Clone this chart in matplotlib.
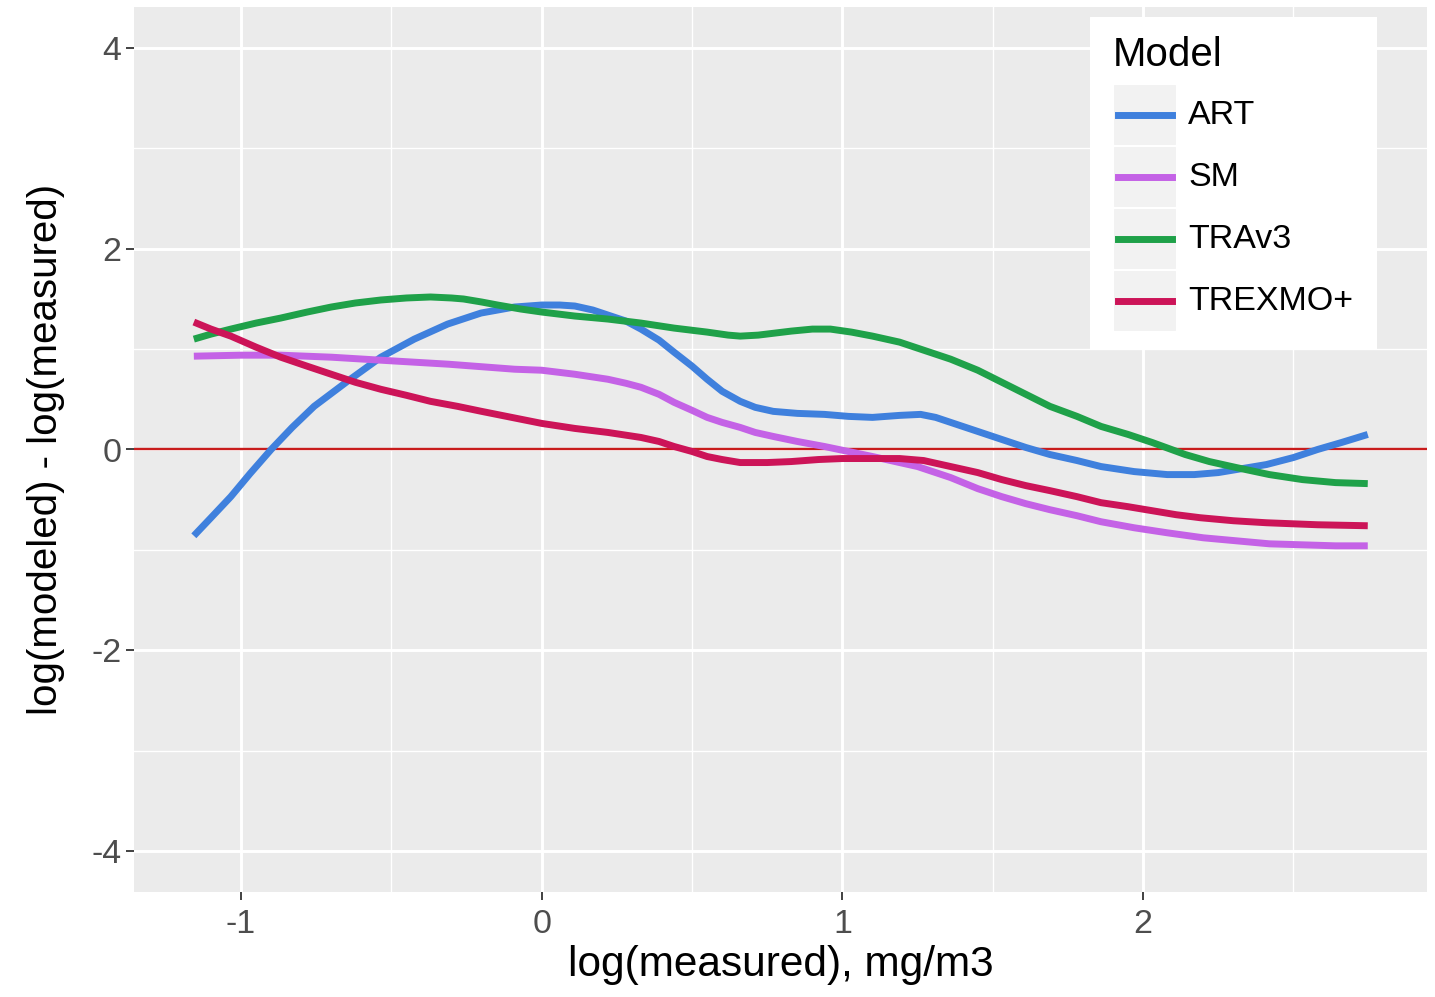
import matplotlib
matplotlib.use("Agg")
import matplotlib.pyplot as plt
from matplotlib.patches import Rectangle
import numpy as np

plt.rcParams['font.family'] = ['Liberation Sans', 'DejaVu Sans']
plt.rcParams['axes.unicode_minus'] = False

# ---- data ----
models = ['ART', 'SM', 'TRAv3', 'TREXMO+']
colors = ['#3F80DD', '#C462E6', '#1FA149', '#CC1458']

art_x = [-1.157, -1.10, -1.034, -0.97, -0.90, -0.83, -0.757, -0.646, -0.535, -0.424, -0.313,
         -0.202, -0.091, 0.0, 0.06, 0.11, 0.17, 0.22, 0.28, 0.33, 0.39, 0.44, 0.50, 0.55,
         0.60, 0.66, 0.71, 0.77, 0.85, 0.94, 1.02, 1.10, 1.19, 1.26, 1.31, 1.36, 1.45,
         1.53, 1.61, 1.69, 1.78, 1.86, 1.97, 2.08, 2.17, 2.25, 2.33, 2.41, 2.50, 2.58,
         2.66, 2.747]
art_y = [-0.86, -0.68, -0.47, -0.24, 0.0, 0.22, 0.43, 0.68, 0.92, 1.10, 1.25,
         1.36, 1.42, 1.44, 1.44, 1.43, 1.39, 1.34, 1.28, 1.20, 1.09, 0.97, 0.83, 0.70,
         0.58, 0.48, 0.42, 0.38, 0.36, 0.35, 0.33, 0.32, 0.34, 0.35, 0.32, 0.27, 0.18,
         0.10, 0.02, -0.05, -0.11, -0.17, -0.22, -0.25, -0.25, -0.23, -0.19, -0.15, -0.08, 0.0,
         0.07, 0.15]

sm_x = [-1.157, -1.0, -0.868, -0.70, -0.535, -0.31, -0.09, 0.0, 0.11, 0.22, 0.28, 0.33,
        0.39, 0.44, 0.50, 0.55, 0.60, 0.66, 0.71, 0.77, 0.85, 0.94, 1.02, 1.10, 1.19,
        1.25, 1.36, 1.45, 1.53, 1.61, 1.69, 1.78, 1.86, 1.97, 2.08, 2.20, 2.31, 2.42,
        2.53, 2.64, 2.747]
sm_y = [0.93, 0.94, 0.94, 0.92, 0.89, 0.85, 0.80, 0.79, 0.75, 0.70, 0.66, 0.62,
        0.55, 0.47, 0.39, 0.32, 0.27, 0.22, 0.17, 0.13, 0.08, 0.03, -0.02, -0.07, -0.13,
        -0.17, -0.28, -0.39, -0.47, -0.54, -0.60, -0.66, -0.72, -0.78, -0.83, -0.88, -0.91, -0.94,
        -0.95, -0.96, -0.96]

tra_x = [-1.157, -1.10, -1.034, -0.95, -0.868, -0.78, -0.70, -0.62, -0.535, -0.45, -0.37,
         -0.30, -0.26, -0.20, -0.147, -0.07, 0.0, 0.11, 0.22, 0.33, 0.44, 0.55, 0.62, 0.66,
         0.72, 0.83, 0.90, 0.96, 1.03, 1.10, 1.19, 1.27, 1.36, 1.45, 1.53, 1.61, 1.69,
         1.78, 1.86, 1.95, 2.03, 2.14, 2.22, 2.31, 2.42, 2.53, 2.64, 2.747]
tra_y = [1.10, 1.15, 1.20, 1.26, 1.31, 1.37, 1.42, 1.46, 1.49, 1.51, 1.52,
         1.51, 1.50, 1.47, 1.44, 1.40, 1.37, 1.33, 1.30, 1.26, 1.21, 1.17, 1.14, 1.13,
         1.14, 1.18, 1.20, 1.20, 1.17, 1.13, 1.07, 0.99, 0.90, 0.79, 0.67, 0.55, 0.43,
         0.33, 0.23, 0.15, 0.07, -0.05, -0.12, -0.18, -0.25, -0.30, -0.33, -0.34]

trx_x = [-1.157, -1.10, -1.034, -0.95, -0.868, -0.78, -0.70, -0.62, -0.535, -0.45, -0.37,
         -0.28, -0.20, -0.10, 0.0, 0.11, 0.22, 0.33, 0.39, 0.44, 0.50, 0.55, 0.60, 0.66,
         0.75, 0.83, 0.92, 1.0, 1.10, 1.19, 1.27, 1.36, 1.45, 1.53, 1.61, 1.69, 1.78,
         1.86, 1.95, 2.03, 2.11, 2.19, 2.30, 2.41, 2.58, 2.747]
trx_y = [1.27, 1.20, 1.13, 1.02, 0.92, 0.83, 0.75, 0.67, 0.60, 0.54, 0.48,
         0.43, 0.38, 0.32, 0.26, 0.21, 0.17, 0.12, 0.08, 0.03, -0.02, -0.07, -0.10, -0.13,
         -0.13, -0.12, -0.10, -0.09, -0.09, -0.09, -0.11, -0.17, -0.23, -0.30, -0.36, -0.41, -0.47,
         -0.53, -0.57, -0.61, -0.65, -0.68, -0.71, -0.73, -0.75, -0.76]

series_x = [art_x, sm_x, tra_x, trx_x]
series_y = [art_y, sm_y, tra_y, trx_y]

x_ticks = [-1, 0, 1, 2]
y_ticks = [-4, -2, 0, 2, 4]

# ---- figure ----
fig = plt.figure(figsize=(14.35, 9.97), dpi=100)
W, H = 1435, 997
ax = fig.add_axes([134 / W, 1 - 892 / H, (1427 - 134) / W, (892 - 7) / H])
ax.set_facecolor('#EBEBEB')
for s in ax.spines.values():
    s.set_visible(False)

ax.set_xlim(-1.356, 2.944)
ax.set_ylim(-4.41, 4.41)
ax.set_xticks(x_ticks)
ax.set_yticks(y_ticks)
ax.set_xticks([-0.5, 0.5, 1.5, 2.5], minor=True)
ax.set_yticks([-3, -1, 1, 3], minor=True)
ax.grid(which='major', color='white', lw=2.1)
ax.grid(which='minor', color='white', lw=1.0)
ax.set_axisbelow(True)
ax.tick_params(which='major', length=6, width=1.3, color='#333333',
               labelsize=24.5, labelcolor='#4D4D4D', pad=3)
ax.tick_params(axis='x', which='major', pad=6)
ax.tick_params(which='minor', length=0)

ax.axhline(0, color='#C81C1C', lw=1.7, zorder=2)

for xs, ys, c in zip(series_x, series_y, colors):
    ax.plot(xs, ys, color=c, lw=5, solid_capstyle='butt', solid_joinstyle='round', zorder=3)

ax.set_xlabel('log(measured), mg/m3', fontsize=30.5, labelpad=4)
ax.set_ylabel('log(modeled) - log(measured)', fontsize=29, labelpad=19)

# ---- ggplot-like legend ----
lg = fig.add_axes([1090 / W, 1 - 350 / H, 287 / W, 333 / H])
lg.set_xlim(1090, 1377)
lg.set_ylim(350, 17)
lg.axis('off')
lg.add_patch(Rectangle((1090, 17), 287, 333, color='white', zorder=0))
lg.text(1113, 55, 'Model', fontsize=29, va='center', ha='left')
key_top = 84
key_h = 62
for i, (name, c) in enumerate(zip(models, colors)):
    y0 = key_top + i * key_h
    lg.add_patch(Rectangle((1113, y0), 64, key_h, color='#F2F2F2', ec='white', lw=1.5, zorder=1))
    lg.plot([1118, 1172], [y0 + key_h / 2] * 2, color=c, lw=5, zorder=2)
    lg.text(1188, y0 + key_h / 2, name, fontsize=24.5, va='center', ha='left')

fig.savefig('out.png', dpi=100)
